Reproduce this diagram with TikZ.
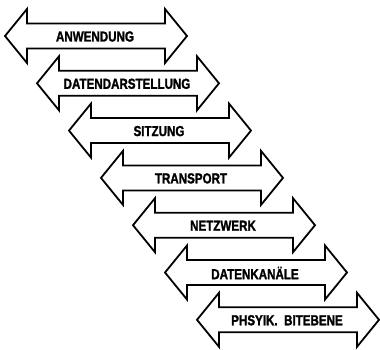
\documentclass[tikz,border=0pt]{standalone}
\usepackage{fontspec}
\newfontfamily\layerfont[FakeStretch=0.8,FakeBold=1.5]{Liberation Sans}

\begin{document}
\begin{tikzpicture}[x=1pt,y=-1pt]
\tikzstyle{every node}=[font=\layerfont\bfseries\fontsize{14.5}{15}\selectfont]
\tikzstyle{layerarrow}=[line width=1.8pt,line join=miter,fill=white]

% fix the page size
\useasboundingbox (0,0) rectangle (380,350);

% one double arrow per layer: left tip at (\xa,\ya)
\foreach \txt [count=\i from 0] in {ANWENDUNG,DATENDARSTELLUNG,SITZUNG,TRANSPORT,NETZWERK,DATENKAN\"ALE,PHSYIK.~~BITEBENE}
{
	\pgfmathsetmacro{\xa}{5+32*\i}
	\pgfmathsetmacro{\ya}{36+47.3*\i}
	\draw [layerarrow] (\xa,\ya) -- ++(22,-27) -- ++(0,14.5) -- ++(138,0) -- ++(0,-14.5)
		-- ++(22,27) -- ++(-22,27) -- ++(0,-14.5) -- ++(-138,0) -- ++(0,14.5) -- cycle;
	\node (layer\i) at (\xa+90,\ya+0.5) {\txt};
}

\end{tikzpicture}
\end{document}
